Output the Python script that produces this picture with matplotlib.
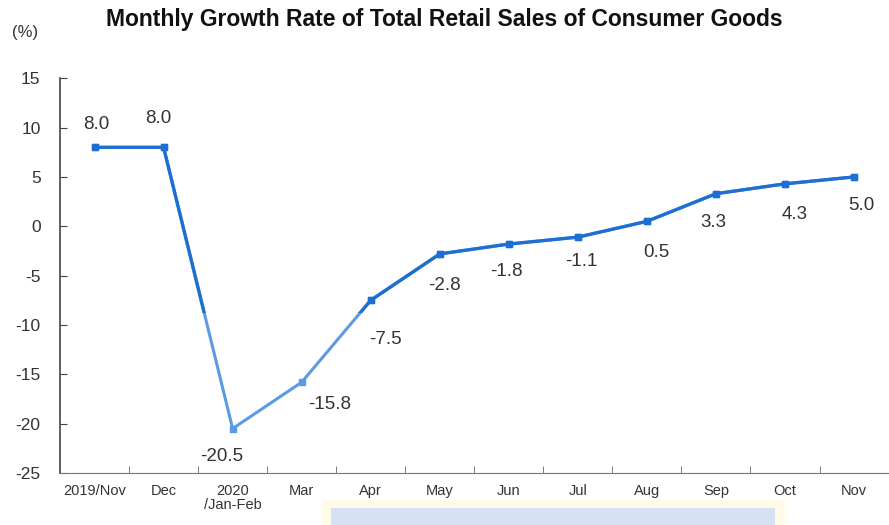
import matplotlib.pyplot as plt
from matplotlib.patches import Rectangle

plt.rcParams['font.family'] = ['Liberation Sans', 'DejaVu Sans']
plt.rcParams['axes.unicode_minus'] = False

months = ['2019/Nov', 'Dec', '2020\n/Jan-Feb', 'Mar', 'Apr', 'May', 'Jun',
          'Jul', 'Aug', 'Sep', 'Oct', 'Nov']
growth = [8.0, 8.0, -20.5, -15.8, -7.5, -2.8, -1.8, -1.1, 0.5, 3.3, 4.3, 5.0]
# label offsets in pixels (dx, dy) relative to each point
label_dx = [2, -5, -11, 28, 15, 5, -2, 3, 9, -3, 10, 7]
label_dy = [23, 29, -28, -22, -39, -32, -27, -24, -31, -29, -31, -29]

fig = plt.figure(figsize=(8.89, 5.25), dpi=100)
ax = fig.add_axes([0.0675, 0.099, 0.932, 0.752])

x = list(range(len(growth)))
dark = '#1E6FD2'
light = '#5C9BE3'

# lighter line in the lower part, darker above
ln_light, = ax.plot(x, growth, color=light, lw=2.2, marker='s', ms=5, zorder=3)
ln_dark, = ax.plot(x, growth, color=dark, lw=2.4, marker='s', ms=5, zorder=4)
clip = Rectangle((-1, -8.8), 20, 30, transform=ax.transData)
ln_dark.set_clip_path(clip)

for i, v in enumerate(growth):
    ax.annotate(f'{v:.1f}', (i, v), xytext=(label_dx[i], label_dy[i]),
                textcoords='offset pixels', ha='center', va='center',
                fontsize=13.5, color='#333333')

ax.set_xlim(-0.5, len(growth) - 0.5)
ax.set_ylim(-25, 15)
ax.set_yticks(range(-25, 16, 5))
ax.set_xticks(x)
ax.set_xticklabels(months, fontsize=10.5, color='#333333', linespacing=0.95)
ax.set_xticks([i + 0.5 for i in range(len(growth) - 1)], minor=True)
ax.tick_params(axis='x', which='major', length=0, pad=8)
ax.tick_params(axis='x', which='minor', direction='in', length=5, color='#666666')
ax.tick_params(axis='y', direction='in', length=5, color='#444444',
               labelsize=12.5, labelcolor='#333333', pad=14)

for s in ['top', 'right']:
    ax.spines[s].set_visible(False)
ax.spines['left'].set_color('#444444')
ax.spines['bottom'].set_color('#777777')
ax.spines['left'].set_linewidth(1.2)

fig.text(0.5, 0.963, 'Monthly Growth Rate of Total Retail Sales of Consumer Goods',
         ha='center', va='center', fontsize=16.5, fontweight='bold', color='#111111')
fig.text(0.028, 0.938, '(%)', ha='center', va='center', fontsize=12, color='#333333')

# faint box at bottom edge
fig.patches.append(Rectangle((0.362, 0.0), 0.521, 0.048, transform=fig.transFigure,
                             facecolor='#FFFBE8', edgecolor='none', zorder=0))
fig.patches.append(Rectangle((0.372, 0.0), 0.5, 0.033, transform=fig.transFigure,
                             facecolor='#D6E2F2', edgecolor='none', zorder=0))

fig.savefig('out.png', dpi=100)
